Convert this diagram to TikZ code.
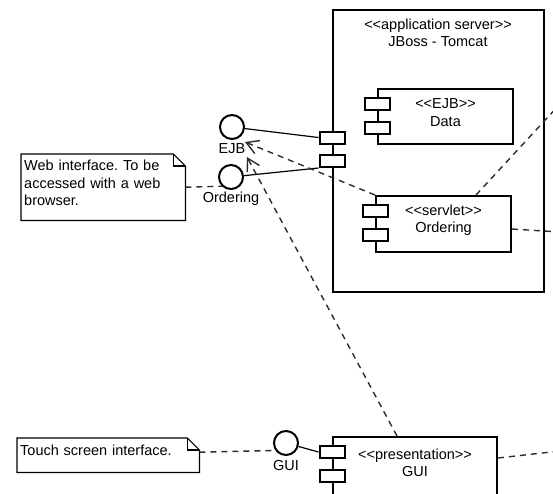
\documentclass[tikz,border=0pt]{standalone}
\usepackage{fontspec}
\setmainfont{Liberation Sans}[Ligatures=TeXOff]
\usetikzlibrary{arrows.meta,calc}
\definecolor{inkgray}{RGB}{45,45,45}
\frenchspacing
\tikzset{
  comp/.style={draw,line width=2pt,fill=white,inner sep=0pt},
  plug/.style={draw,line width=2pt,fill=white,minimum width=25pt,minimum height=12pt,inner sep=0pt},
  iface/.style={draw,circle,line width=2pt,minimum size=24pt,inner sep=0pt},
  wire/.style={line width=1.2pt},
  dep/.style={dash pattern=on 6pt off 5pt,line width=1.4pt,draw=inkgray},
  note/.style={inner sep=3pt,align=left,anchor=north west},
}

\begin{document}
\begin{tikzpicture}[x=1pt,y=-1pt,font=\fontsize{14.5}{17.5}\selectfont]
\useasboundingbox (0,0) rectangle (553,493);
\clip (0,0) rectangle (553,493);
% application server with its two ports
\node[comp,minimum width=211pt,minimum height=282pt] (srv) at (438.5,151) {};
\node[align=center] (srv-t) at (438,33) {<<application server>>\\JBoss - Tomcat};
\foreach \i/\dy in {1/128.5,2/152}{
\node[plug] (srv-p\i) at ([yshift=-\dy pt]srv.north west) {};}
% components
\foreach \c/\x/\y/\w/\h/\st/\nm in {data/445.5/116.5/135/55/EJB/Data,serv/443.5/224/135/56/servlet/Ordering,gui/415/467/164/60/presentation/GUI}{
\node[comp,minimum width=\w pt,minimum height=\h pt] (\c) at (\x,\y) {};
\node[align=center] (\c-t) at ([yshift=4pt]\c.center) {<<\st>>\\\nm};
\node[plug] (\c-a) at ([yshift=-16pt]\c.north west) {};
\node[plug] (\c-b) at ([yshift=-40pt]\c.north west) {};}
% provided interfaces
\foreach \n/\x/\y/\lab in {ejb/232/127/EJB,ord/231/177/Ordering,gui-i/286/443/GUI}{
\node[iface] (\n) at (\x,\y) {};
\node[inner sep=0pt] (\n-l) at (\x,\y+22) {\lab};}
\draw[wire] (ejb) -- (srv-p1.west);
\draw[wire] (ord) -- (srv-p2.south west);
\draw[wire] (gui-i) -- (gui-a.west);
% dependencies
\coordinate (ejb-tip) at (245,142);
\coordinate (ord-tip) at (247,157);
\draw[dep,-{Straight Barb[length=12pt,width=14pt]}] (serv.north west) -- (ejb-tip);
\draw[dep,-{Straight Barb[length=12pt,width=14pt]}] ([xshift=65pt]gui.north west) -- (ord-tip);
\coordinate (out-a) at (560,104);
\coordinate (out-b) at (560,232);
\coordinate (out-c) at (560,451);
\draw[dep] ([xshift=101pt]serv.north west) -- (out-a);
\draw[dep] ([yshift=-5pt]serv.east) -- (out-b);
\draw[dep] ([yshift=9pt]gui.east) -- (out-c);
% notes
\node[note,text width=158pt,minimum height=66pt,text depth=43pt] (web) at (21,154) {Web interface. To be\\accessed with a web\\browser.};
\node[note,text width=176pt,minimum height=34pt,text height=10pt,text depth=10pt] (touch) at (17,438) {Touch screen interface.};
\foreach \n in {web,touch}{
\draw[wire] (\n.north west) -- ([xshift=-12pt]\n.north east) -- ([yshift=-12pt]\n.north east) -- (\n.south east) -- (\n.south west) -- cycle;
\draw[wire] ([xshift=-12pt]\n.north east) |- ([yshift=-12pt]\n.north east);}
\draw[dep] (web.east) -- (ord.225);
\draw[dep] ([yshift=3pt]touch.east) -- (gui-i.215);
\end{tikzpicture}
\end{document}
